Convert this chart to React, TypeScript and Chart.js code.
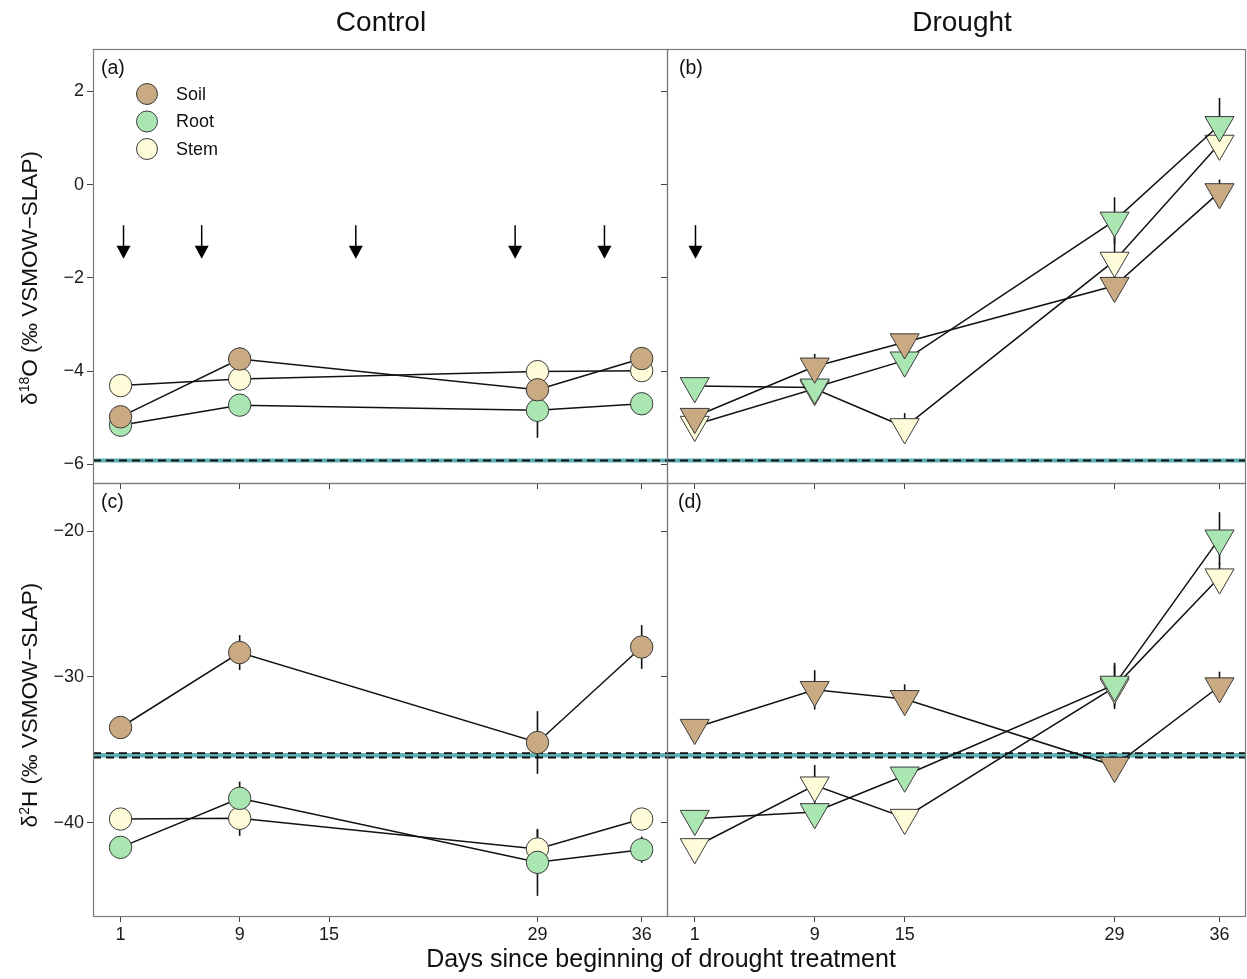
import React, { useEffect, useRef } from 'react';
import { Chart, registerables } from 'chart.js';

Chart.register(...registerables);

// ---------------- data ----------------
const controlDays = [1, 9, 29, 36];
const droughtDays = [1, 9, 15, 29, 36];
const dayTicks = [1, 9, 15, 29, 36];
const dayTickLabels = ['1', '9', '15', '29', '36'];

const seriesNames = ['Soil', 'Root', 'Stem'];
const seriesFill = ['#c9aa82', '#a9e6b1', '#fffcd9'];

const yTicksO = [2, 0, -2, -4, -6];
const yTicksH = [-20, -30, -40];

// (a) Control, d18O
const controlO_Soil = [-4.98, -3.74, -4.4, -3.73];
const controlO_SoilErr = [0.1, 0.25, 0.1, 0.2];
const controlO_Root = [-5.16, -4.73, -4.84, -4.7];
const controlO_RootErr = [0.1, 0.1, 0.59, 0.1];
const controlO_Stem = [-4.31, -4.17, -4.01, -3.99];
const controlO_StemErr = [0.1, 0.1, 0.1, 0.1];

// (b) Drought, d18O
const droughtO_Soil = [-4.98, -3.9, -3.38, -2.17, -0.16];
const droughtO_SoilErr = [0.1, 0.27, 0.1, 0.15, 0.27];
const droughtO_Root = [-4.32, -4.35, -3.77, -0.77, 1.28];
const droughtO_RootErr = [0.1, 0.1, 0.1, 0.5, 0.58];
const droughtO_Stem = [-5.15, -4.38, -5.2, -1.63, 0.88];
const droughtO_StemErr = [0.1, 0.1, 0.3, 0.5, 0.1];

// (c) Control, d2H
const controlH_Soil = [-33.47, -28.33, -34.5, -27.95];
const controlH_SoilErr = [0.3, 1.2, 2.15, 1.5];
const controlH_Root = [-41.69, -38.33, -42.72, -41.85];
const controlH_RootErr = [0.5, 1.15, 2.3, 0.9];
const controlH_Stem = [-39.75, -39.7, -41.8, -39.75];
const controlH_StemErr = [0.3, 1.2, 1.3, 0.5];

// (d) Drought, d2H
const droughtH_Soil = [-33.49, -30.89, -31.51, -36.1, -30.64];
const droughtH_SoilErr = [0.3, 1.35, 1.0, 0.5, 1.0];
const droughtH_Root = [-39.73, -39.27, -36.76, -30.53, -20.5];
const droughtH_RootErr = [0.4, 0.4, 0.4, 1.5, 1.8];
const droughtH_Stem = [-41.67, -37.44, -39.66, -30.7, -23.17];
const droughtH_StemErr = [0.5, 1.4, 0.6, 1.5, 1.0];

// irrigation arrows (days) and their extent in d18O units
const controlArrowDays = [1.2, 6.45, 16.8, 27.5, 33.5];
const droughtArrowDays = [1.05];
const arrowTop = -0.87;
const arrowTip = -1.59;

// source water
const sourceO = -5.92;
const sourceH = [-35.53, -35.23];

// ---------------- helpers ----------------
const FONT = '"Liberation Sans", Arial, Helvetica, sans-serif';
const TEAL = '#5cb0b3';

type PanelSpec = {
  id: string;
  label: string;
  L: number; T: number; W: number; H: number;
  ml: number; mt: number; mr: number; mb: number;
  yMin: number; yMax: number; yTicks: number[];
  showYLabels: boolean; showXLabels: boolean;
  days: number[];
  series: number[][];
  errs: number[][];
  shape: 'circle' | 'triangle';
  arrows: number[];
  band: number[] | null;
  line: number | null;
  legend: boolean;
  labelDx: number;
};

const minusFmt = (v: number) => String(v).replace('-', '\u2212');

function buildChart(canvas: HTMLCanvasElement, p: PanelSpec) {
  const framePlugin = {
    id: 'frame_' + p.id,
    beforeDatasetsDraw(chart: any) {
      const { ctx, chartArea: a, scales } = chart;
      const y = scales.y;
      ctx.save();
      // source water reference
      if (p.line !== null) {
        const py = y.getPixelForValue(p.line);
        ctx.strokeStyle = TEAL;
        ctx.lineWidth = 4;
        ctx.beginPath(); ctx.moveTo(a.left, py); ctx.lineTo(a.right, py); ctx.stroke();
        ctx.strokeStyle = '#111';
        ctx.lineWidth = 2;
        ctx.setLineDash([8, 5]);
        ctx.beginPath(); ctx.moveTo(a.left, py); ctx.lineTo(a.right, py); ctx.stroke();
        ctx.setLineDash([]);
      }
      if (p.band) {
        const y1 = y.getPixelForValue(p.band[0]);
        const y2 = y.getPixelForValue(p.band[1]);
        ctx.fillStyle = TEAL;
        ctx.fillRect(a.left, Math.min(y1, y2), a.right - a.left, Math.abs(y1 - y2));
        ctx.strokeStyle = '#111';
        ctx.lineWidth = 1.8;
        ctx.setLineDash([8, 5]);
        [y1, y2].forEach((py) => {
          ctx.beginPath(); ctx.moveTo(a.left, py); ctx.lineTo(a.right, py); ctx.stroke();
        });
        ctx.setLineDash([]);
      }
      // error bars
      ctx.strokeStyle = '#111';
      ctx.lineWidth = 1.6;
      chart.data.datasets.forEach((ds: any, i: number) => {
        const meta = chart.getDatasetMeta(i);
        ds.data.forEach((pt: any, j: number) => {
          const e = ds.errors[j];
          const px = meta.data[j].x;
          ctx.beginPath();
          ctx.moveTo(px, y.getPixelForValue(pt.y + e));
          ctx.lineTo(px, y.getPixelForValue(pt.y - e));
          ctx.stroke();
        });
      });
      ctx.restore();
    },
    afterDatasetsDraw(chart: any) {
      const { ctx, chartArea: a, scales } = chart;
      ctx.save();
      // arrows
      if (p.arrows.length) {
        const x = scales.x;
        const y = scales.y;
        p.arrows.forEach((d) => {
          const px = x.getPixelForValue(d);
          const yt = y.getPixelForValue(arrowTop);
          const yb = y.getPixelForValue(arrowTip);
          ctx.strokeStyle = '#000';
          ctx.lineWidth = 1.5;
          ctx.beginPath(); ctx.moveTo(px, yt); ctx.lineTo(px, yb - 8); ctx.stroke();
          ctx.fillStyle = '#000';
          ctx.beginPath();
          ctx.moveTo(px - 7, yb - 13);
          ctx.lineTo(px + 7, yb - 13);
          ctx.lineTo(px, yb);
          ctx.closePath();
          ctx.fill();
        });
      }
      // frame
      ctx.strokeStyle = '#7a7a7a';
      ctx.lineWidth = 1.2;
      ctx.strokeRect(Math.round(a.left) + 0.5, Math.round(a.top) + 0.5, Math.round(a.right - a.left), Math.round(a.bottom - a.top));
      // panel label
      ctx.fillStyle = '#111';
      ctx.font = '19.5px ' + FONT;
      ctx.textBaseline = 'alphabetic';
      ctx.textAlign = 'left';
      ctx.fillText(p.label, a.left + p.labelDx, a.top + 25);
      // legend
      if (p.legend) {
        seriesNames.forEach((name, i) => {
          const cy = a.top + 45 + i * 27.5;
          const cx = a.left + 54;
          ctx.beginPath();
          ctx.arc(cx, cy, 10.5, 0, Math.PI * 2);
          ctx.fillStyle = seriesFill[i];
          ctx.fill();
          ctx.strokeStyle = '#3a3a3a';
          ctx.lineWidth = 1;
          ctx.stroke();
          ctx.fillStyle = '#111';
          ctx.font = '18px ' + FONT;
          ctx.textBaseline = 'middle';
          ctx.fillText(name, a.left + 83, cy + 1);
        });
      }
      ctx.restore();
    },
  };

  const datasets = seriesNames.map((name, i) => ({
    label: name,
    data: p.days.map((d, j) => ({ x: d, y: p.series[i][j] })),
    errors: p.errs[i],
    borderColor: '#111',
    borderWidth: 1.5,
    pointStyle: p.shape,
    pointRotation: p.shape === 'triangle' ? 180 : 0,
    pointRadius: p.shape === 'triangle' ? 16.8 : 11.2,
    pointHoverRadius: p.shape === 'triangle' ? 16.8 : 11.2,
    pointBackgroundColor: seriesFill[i],
    pointBorderColor: '#3a3a3a',
    pointBorderWidth: 1,
    tension: 0,
    fill: false,
    clip: false as any,
  }));

  return new Chart(canvas, {
    type: 'line',
    data: { datasets: datasets as any },
    plugins: [framePlugin as any],
    options: {
      responsive: false,
      animation: false,
      devicePixelRatio: 1,
      layout: { autoPadding: false, padding: { left: 0, top: p.mt, right: p.mr, bottom: 0 } },
      plugins: { legend: { display: false }, tooltip: { enabled: false }, title: { display: false } },
      scales: {
        x: {
          type: 'linear',
          min: -0.85,
          max: 37.7,
          position: 'bottom',
          afterBuildTicks: (s: any) => { s.ticks = dayTicks.map((v) => ({ value: v })); },
          afterFit: (s: any) => { s.height = p.mb; },
          ticks: {
            display: p.showXLabels,
            autoSkip: false,
            maxRotation: 0,
            padding: 2,
            color: '#1a1a1a',
            font: { family: FONT, size: 18 },
            callback: (v: any) => dayTickLabels[dayTicks.indexOf(Number(v))] ?? '',
          },
          grid: { drawOnChartArea: false, drawTicks: true, tickLength: 6, color: '#444', lineWidth: 1 },
          border: { display: false },
        },
        y: {
          type: 'linear',
          min: p.yMin,
          max: p.yMax,
          position: 'left',
          afterBuildTicks: (s: any) => { s.ticks = p.yTicks.map((v) => ({ value: v })); },
          afterFit: (s: any) => { s.width = p.ml; },
          ticks: {
            display: p.showYLabels,
            padding: 3,
            color: '#1a1a1a',
            font: { family: FONT, size: 18 },
            callback: (v: any) => minusFmt(Number(v)),
          },
          grid: { drawOnChartArea: false, drawTicks: true, tickLength: 6, color: '#444', lineWidth: 1 },
          border: { display: false },
        },
      },
    } as any,
  });
}

const panels: PanelSpec[] = [
  {
    id: 'a', label: '(a)', L: 93, T: 49, W: 574, H: 434, ml: 93, mt: 20, mr: 20, mb: 20,
    yMin: -6.4, yMax: 2.91, yTicks: yTicksO, showYLabels: true, showXLabels: false,
    days: controlDays,
    series: [controlO_Soil, controlO_Root, controlO_Stem],
    errs: [controlO_SoilErr, controlO_RootErr, controlO_StemErr],
    shape: 'circle', arrows: controlArrowDays, band: null, line: sourceO, legend: true, labelDx: 8,
  },
  {
    id: 'b', label: '(b)', L: 667, T: 49, W: 578, H: 434, ml: 20, mt: 20, mr: 2, mb: 20,
    yMin: -6.4, yMax: 2.91, yTicks: yTicksO, showYLabels: false, showXLabels: false,
    days: droughtDays,
    series: [droughtO_Soil, droughtO_Root, droughtO_Stem],
    errs: [droughtO_SoilErr, droughtO_RootErr, droughtO_StemErr],
    shape: 'triangle', arrows: droughtArrowDays, band: null, line: sourceO, legend: false, labelDx: 12,
  },
  {
    id: 'c', label: '(c)', L: 93, T: 483, W: 574, H: 433, ml: 93, mt: 20, mr: 20, mb: 63,
    yMin: -46.4, yMax: -16.7, yTicks: yTicksH, showYLabels: true, showXLabels: true,
    days: controlDays,
    series: [controlH_Soil, controlH_Root, controlH_Stem],
    errs: [controlH_SoilErr, controlH_RootErr, controlH_StemErr],
    shape: 'circle', arrows: [], band: sourceH, line: null, legend: false, labelDx: 8,
  },
  {
    id: 'd', label: '(d)', L: 667, T: 483, W: 578, H: 433, ml: 20, mt: 20, mr: 2, mb: 63,
    yMin: -46.4, yMax: -16.7, yTicks: yTicksH, showYLabels: false, showXLabels: true,
    days: droughtDays,
    series: [droughtH_Soil, droughtH_Root, droughtH_Stem],
    errs: [droughtH_SoilErr, droughtH_RootErr, droughtH_StemErr],
    shape: 'triangle', arrows: [], band: sourceH, line: null, legend: false, labelDx: 11,
  },
];

function Panel({ spec }: { spec: PanelSpec }) {
  const ref = useRef<HTMLCanvasElement | null>(null);
  useEffect(() => {
    if (!ref.current) return;
    const chart = buildChart(ref.current, spec);
    return () => chart.destroy();
  }, [spec]);
  const w = spec.W + spec.ml + spec.mr;
  const h = spec.H + spec.mt + spec.mb;
  return (
    <canvas
      ref={ref}
      width={w}
      height={h}
      style={{ position: 'absolute', left: spec.L - spec.ml, top: spec.T - spec.mt, width: w, height: h }}
    />
  );
}

function textTop(baseline: number, fs: number) {
  return baseline - 0.8465 * fs;
}

export default function App() {
  const hdr = (text: string, cx: number) => (
    <div
      style={{
        position: 'absolute', left: cx - 200, width: 400, top: textTop(32, 28),
        fontSize: 28, lineHeight: '28px', textAlign: 'center', color: '#111', whiteSpace: 'nowrap',
      }}
    >
      {text}
    </div>
  );
  const ytitle = (iso: string, sup: string, rest: string, cy: number) => (
    <div
      style={{
        position: 'absolute', left: 31, top: cy, transform: 'translate(-50%, -50%) rotate(-90deg)',
        fontSize: 22.5, lineHeight: '22px', whiteSpace: 'nowrap', color: '#111',
      }}
    >
      {iso}
      <span style={{ fontSize: 14, position: 'relative', top: -8 }}>{sup}</span>
      {rest}
    </div>
  );
  return (
    <div
      style={{
        position: 'absolute', left: 0, top: 0, width: 1247, height: 979, background: '#fff',
        fontFamily: FONT, overflow: 'hidden',
      }}
    >
      {panels.map((p) => (
        <Panel key={p.id} spec={p} />
      ))}
      {hdr('Control', 381)}
      {hdr('Drought', 962)}
      {ytitle('\u03B4', '18', 'O (\u2030 VSMOW\u2212SLAP)', 278)}
      {ytitle('\u03B4', '2', 'H (\u2030 VSMOW\u2212SLAP)', 705)}
      <div
        style={{
          position: 'absolute', left: 661 - 400, width: 800, top: textTop(967, 25),
          fontSize: 25, lineHeight: '25px', textAlign: 'center', color: '#111', whiteSpace: 'nowrap',
        }}
      >
        Days since beginning of drought treatment
      </div>
    </div>
  );
}
